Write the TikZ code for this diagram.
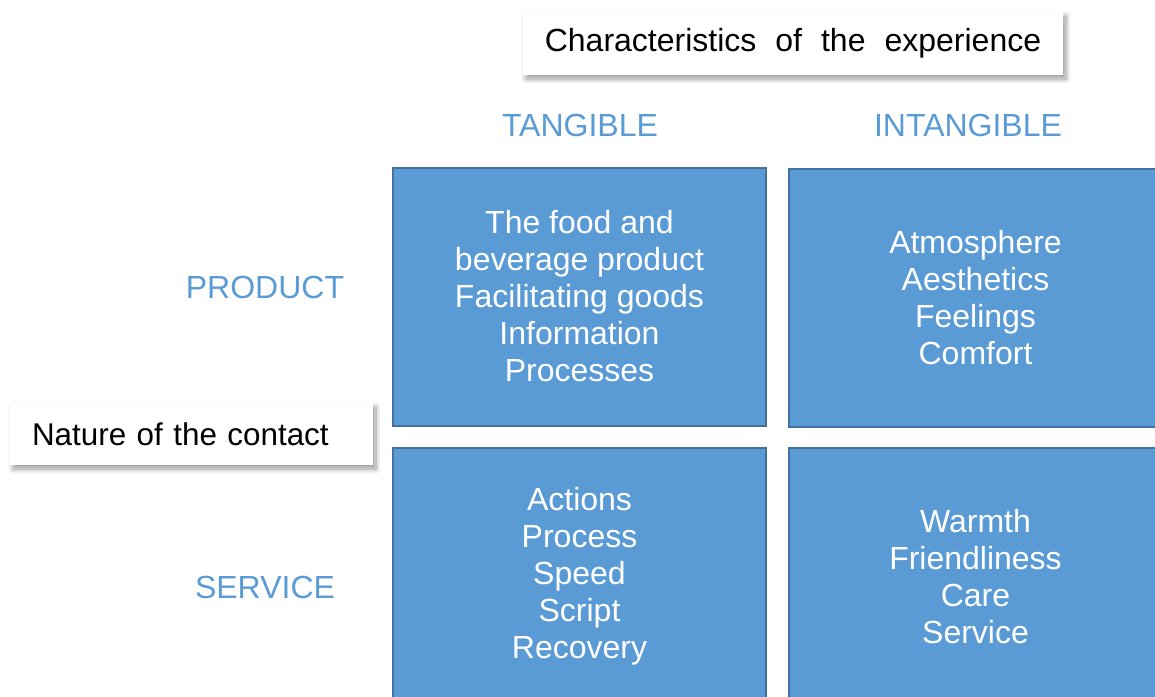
\documentclass[tikz,border=0pt]{standalone}
\usepackage{fontspec}
\setmainfont{Liberation Sans}
\usetikzlibrary{shadows.blur}
\definecolor{cellfill}{HTML}{5B9BD5}
\definecolor{celledge}{HTML}{41719C}
\definecolor{headblue}{HTML}{5B9BD5}
\newcommand\cellfont{\fontsize{32}{37}\selectfont}
\begin{document}
\begin{tikzpicture}[x=1pt,y=-1pt,
  cell/.style={draw=celledge, line width=2pt, fill=cellfill, text=white,
    minimum width=373pt, minimum height=258pt, inner sep=0pt,
    align=center, font=\cellfont},
  heading/.style={text=headblue, font=\cellfont, inner sep=0pt},
  tag/.style={fill=white, text=black, font=\cellfont, inner sep=0pt,
    blur shadow={shadow xshift=3pt, shadow yshift=-4pt,
      shadow blur steps=10, shadow blur radius=5pt, shadow opacity=40}}]
  \useasboundingbox (0,0) rectangle (1155,696);
  \clip (0,0) rectangle (1155,696);

  % matrix cells
  \node[cell] (tl) at (579.5,296.5) {The food and\\beverage product\\Facilitating goods\\Information\\Processes};
  \node[cell] (tr) at (975.5,297.5) {Atmosphere\\Aesthetics\\Feelings\\Comfort};
  \node[cell] (bl) at (579.5,576.5) {Actions\\Process\\Speed\\Script\\Recovery};
  \node[cell] (br) at (975.5,576.5) {Warmth\\Friendliness\\Care\\Service};

  % axis headings
  \node[heading] (tang) at (580,125) {TANGIBLE};
  \node[heading] (intang) at (968,125) {INTANGIBLE};
  \node[heading] (prod) at (265,287) {PRODUCT};
  \node[heading] (serv) at (265,587) {SERVICE};

  % axis captions
  \node[tag, minimum width=540pt, minimum height=63pt] (chars) at (793,43.5)
    {Characteristics\hspace{19pt}of\hspace{19pt}the\hspace{19pt}experience};
  \node[tag, minimum height=62pt, text width=363pt, align=left,
    font=\fontsize{31.4}{37}\selectfont] (nature) at (191.5,434)
    {\hspace*{22pt}Nature of the contact};
\end{tikzpicture}
\end{document}
